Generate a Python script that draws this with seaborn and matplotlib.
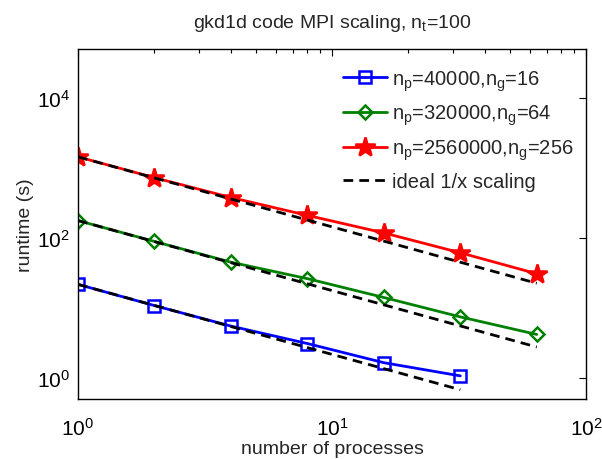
import matplotlib
matplotlib.use("Agg")
import matplotlib.pyplot as plt
from matplotlib.ticker import LogLocator, NullLocator, FixedLocator, LogFormatterMathtext
import numpy as np
import pandas as pd
import seaborn as sns

# MPI process counts
procs_small = [1, 2, 4, 8, 16, 32]
procs_large = [1, 2, 4, 8, 16, 32, 64]

# measured runtimes in seconds
runtime_40k = [21.7, 10.8, 5.5, 3.1, 1.65, 1.07]
runtime_320k = [177, 89, 45, 26.2, 14.1, 7.45, 4.18]
runtime_2560k = [1440, 725, 378, 210, 118, 61.4, 30.8]

labels = [
    r"n$_\mathrm{p}$=40000,n$_\mathrm{g}$=16",
    r"n$_\mathrm{p}$=320000,n$_\mathrm{g}$=64",
    r"n$_\mathrm{p}$=2560000,n$_\mathrm{g}$=256",
]
ideal_label = "ideal 1/x scaling"
title = r"gkd1d code MPI scaling, n$_\mathrm{t}$=100"

sns.set_style("white")
plt.rcParams["font.family"] = ["Liberation Sans", "DejaVu Sans"]
plt.rcParams["mathtext.fontset"] = "custom"
plt.rcParams["mathtext.rm"] = "Liberation Sans"
plt.rcParams["mathtext.it"] = "Liberation Sans:italic"
plt.rcParams["mathtext.bf"] = "Liberation Sans:bold"

W, H = 602, 460
fig = plt.figure(figsize=(W / 100, H / 100), dpi=100)
ax = fig.add_axes([78 / W, 1 - 400 / H, (586 - 78) / W, (400 - 50) / H])

series = [
    (procs_small, runtime_40k, "#0000ff", "s", "none"),
    (procs_large, runtime_320k, "#008000", "D", "none"),
    (procs_large, runtime_2560k, "#ff0000", "*", "#ff0000"),
]

DASH = (3.5, 2.2)

for (x, y, color, marker, fill), lab in zip(series, labels):
    df = pd.DataFrame({"procs": x, "runtime": y})
    ms = 15 if marker == "*" else (8 if marker == "s" else 7.5)
    sns.lineplot(data=df, x="procs", y="runtime", ax=ax, color=color, lw=2.0,
                 marker=marker, markersize=ms, markerfacecolor=fill,
                 markeredgecolor=color, markeredgewidth=1.8, label=lab, zorder=2)

# ideal scaling from the single-process runtime
for i, (x, y, *_rest) in enumerate(series):
    xs = np.array(x, dtype=float)
    ideal = pd.DataFrame({"procs": xs, "runtime": y[0] / xs})
    sns.lineplot(data=ideal, x="procs", y="runtime", ax=ax, color="black", lw=2.0,
                 dashes=False, label=ideal_label if i == 0 else None, zorder=3)
    ax.lines[-1].set_dashes(DASH)

ax.set_xscale("log")
ax.set_yscale("log")
ax.set_xlim(1, 100)
ax.set_ylim(0.5, 5e4)

ax.xaxis.set_major_locator(FixedLocator([1, 10, 100]))
ax.xaxis.set_minor_locator(LogLocator(base=10, subs=np.arange(2, 10)))
ax.xaxis.set_major_formatter(LogFormatterMathtext())
ax.yaxis.set_major_locator(FixedLocator([1, 100, 1e4]))
ax.yaxis.set_minor_locator(NullLocator())
ax.yaxis.set_major_formatter(LogFormatterMathtext())

ax.tick_params(which="both", direction="in", top=True, right=True, labelsize=15,
               colors="black")
ax.tick_params(axis="x", pad=13)
ax.tick_params(axis="y", pad=6)
ax.tick_params(which="major", length=5, width=0.8)
ax.tick_params(which="minor", length=3, width=0.8)
for s in ax.spines.values():
    s.set_color("black")
    s.set_linewidth(1.0)

ax.set_xlabel("number of processes", fontsize=14, labelpad=1)
ax.set_ylabel("runtime (s)", fontsize=14, labelpad=2)
ax.set_title(title, fontsize=14, pad=16)

handles, labs = ax.get_legend_handles_labels()
for h in handles:
    if h.get_color() == "black":
        h.set_dashes(DASH)
leg = ax.legend(handles, labs, loc="upper left", frameon=False, fontsize=14.5,
                handlelength=2.2, handletextpad=0.25, labelspacing=0.5,
                borderaxespad=0.0, borderpad=0.4,
                bbox_to_anchor=((335 - 78) / 508, 0.968))

fig.savefig("out.png", dpi=100)
